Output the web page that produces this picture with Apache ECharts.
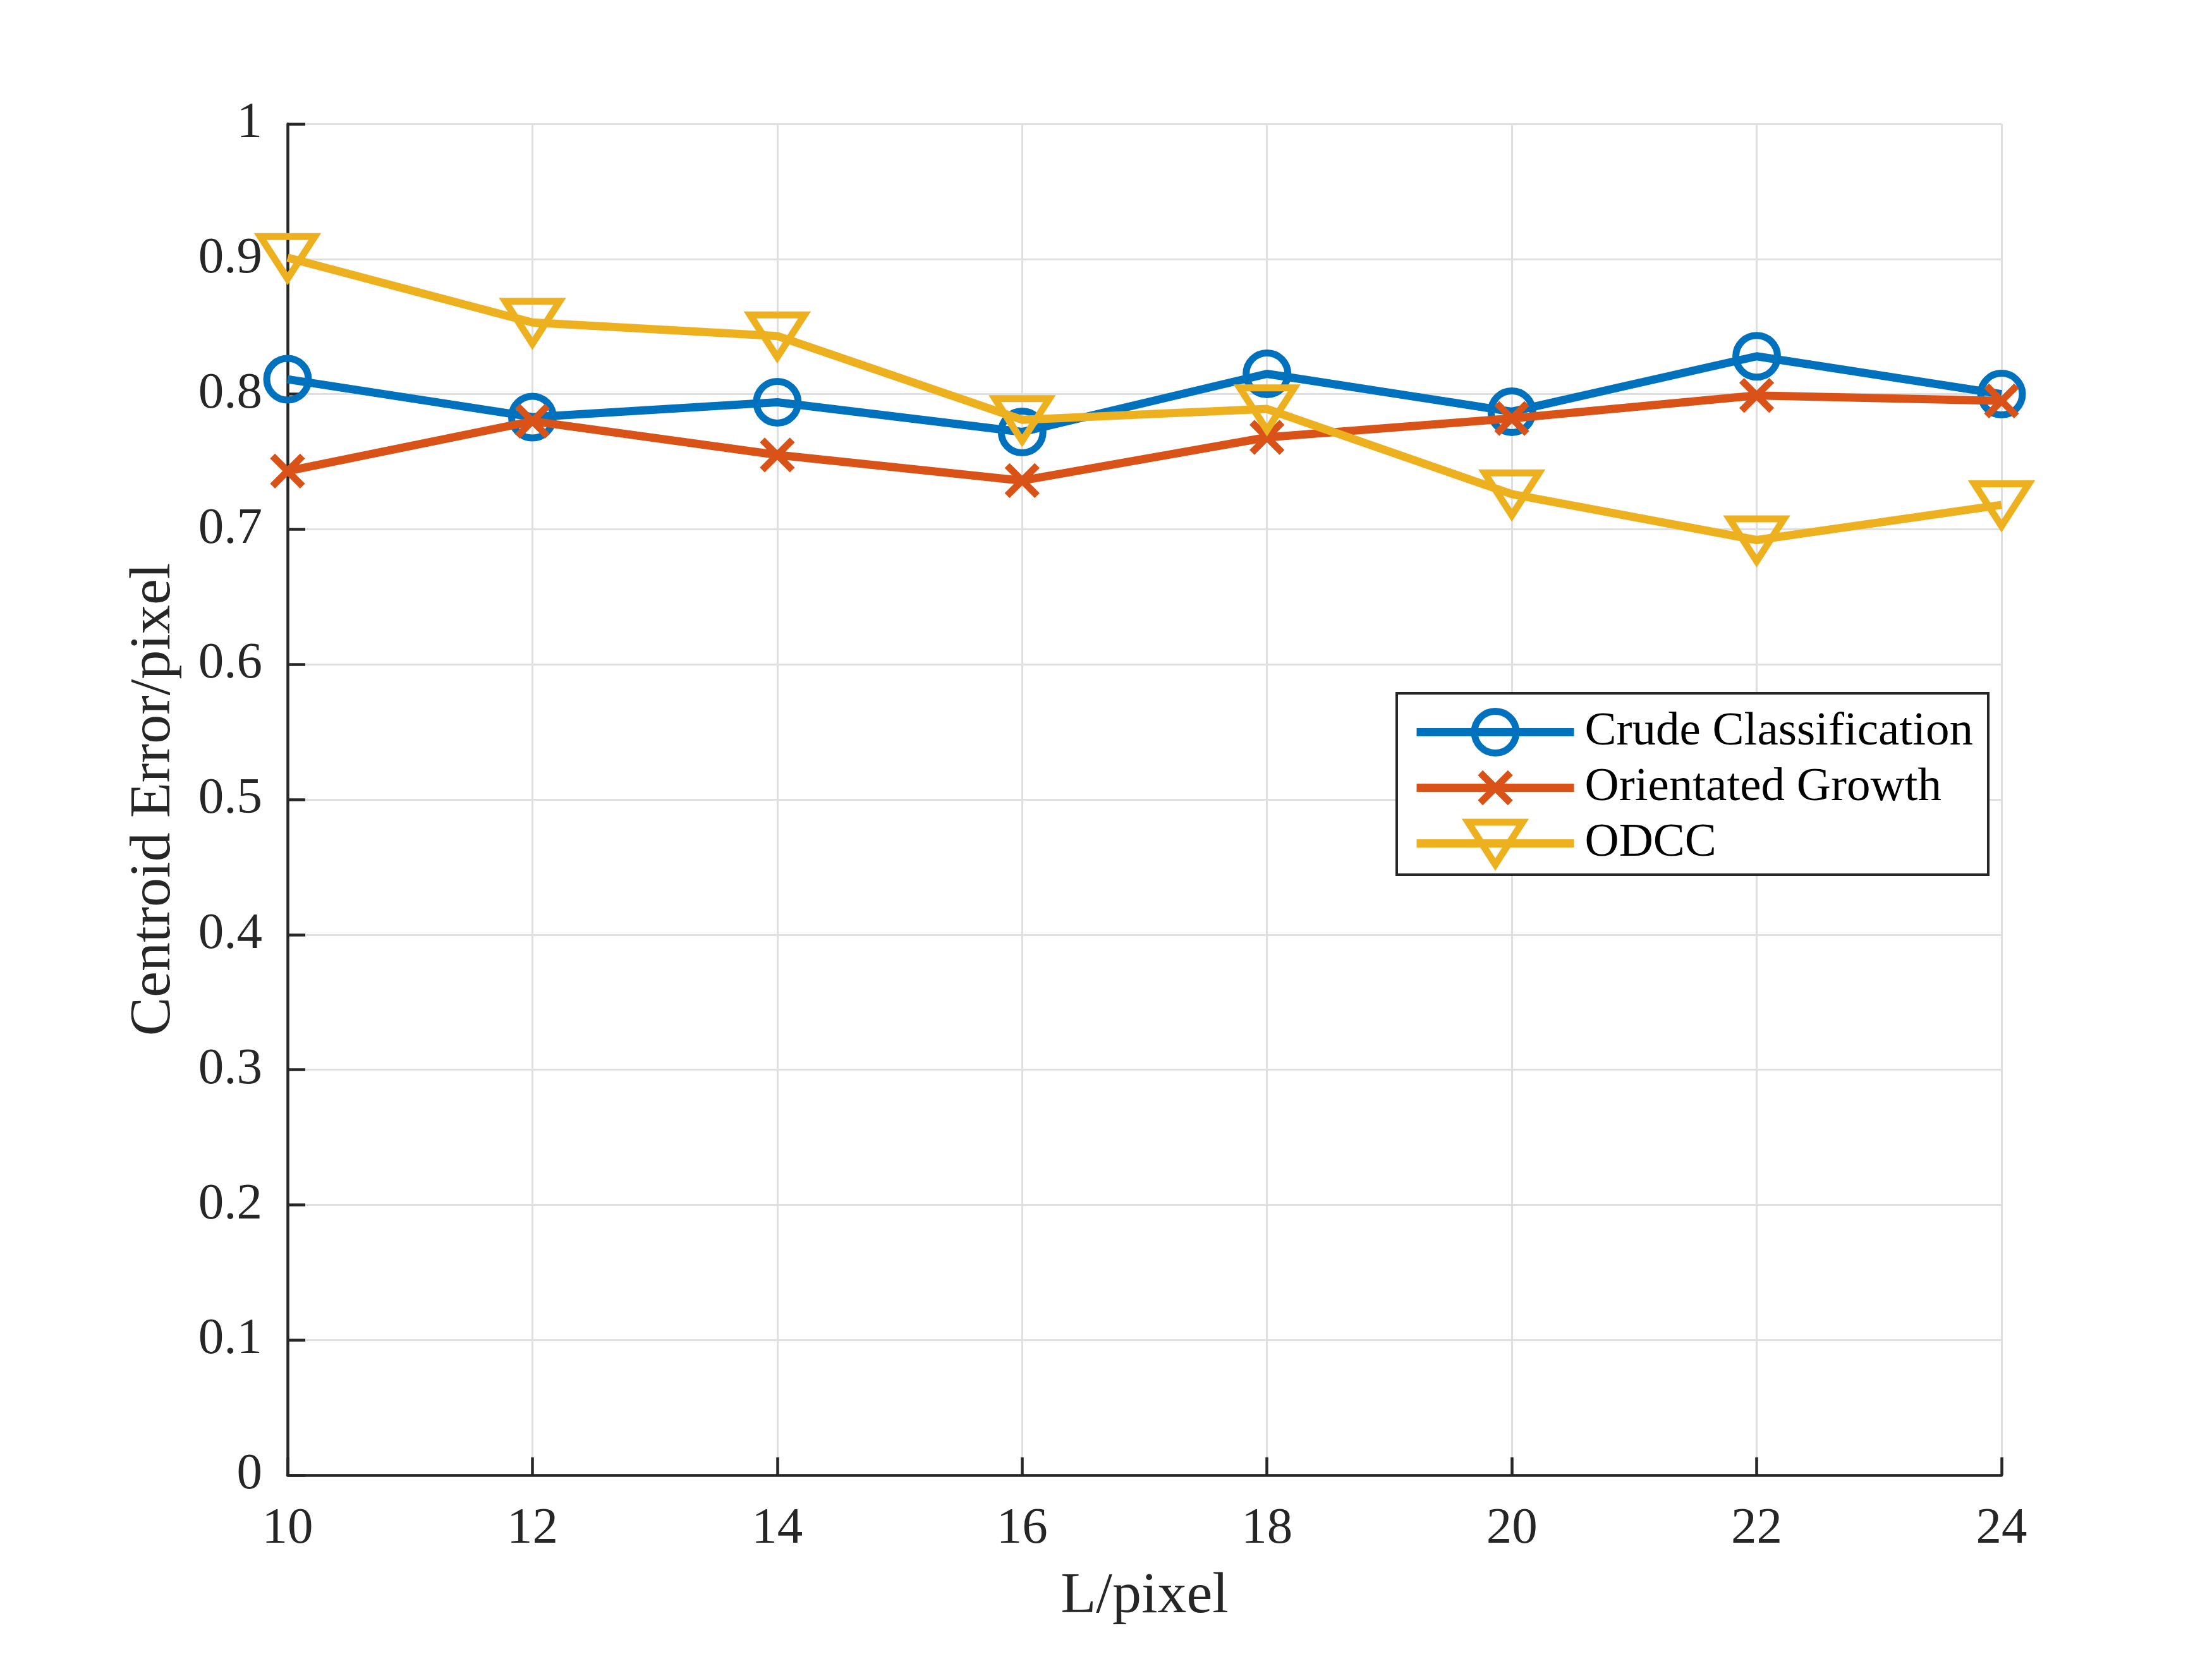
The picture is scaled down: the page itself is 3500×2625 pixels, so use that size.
<!DOCTYPE html>
<html>
<head>
<meta charset="utf-8">
<script src="https://cdn.jsdelivr.net/npm/echarts@6/dist/echarts.min.js"></script>
<style>
html,body{margin:0;padding:0;background:#fff;}
#chart{width:3500px;height:2625px;}
</style>
</head>
<body>
<div id="chart"></div>
<script>
// ---- data ----
const xValues = [10, 12, 14, 16, 18, 20, 22, 24];
const crudeClassification = [0.811, 0.783, 0.794, 0.772, 0.815, 0.787, 0.828, 0.800];
const orientatedGrowth   = [0.743, 0.780, 0.755, 0.736, 0.768, 0.782, 0.799, 0.795];
const odcc               = [0.901, 0.853, 0.843, 0.781, 0.789, 0.726, 0.692, 0.718];
const seriesNames = ['Crude Classification', 'Orientated Growth', 'ODCC'];
const xTicks = [10, 12, 14, 16, 18, 20, 22, 24];
const yTicks = [0, 0.1, 0.2, 0.3, 0.4, 0.5, 0.6, 0.7, 0.8, 0.9, 1];

// ---- styling ----
const FONT = "'Liberation Serif', 'Times New Roman', serif";
const AX = '#262626';
const colors = ['#0072BD', '#D95319', '#EDB120'];
// marker shapes (padded 100x100 boxes so markers and legend icons share size)
const symCircle = 'path://M0,0 M100,100 M12.5,50 A37.5,37.5 0 1 1 87.5,50 A37.5,37.5 0 1 1 12.5,50 Z';
const symX = 'path://M0,0 M100,100 M23,23 L77,77 M77,23 L23,77';
const symTri = 'path://M0,0 M100,100 M1,12 L99,12 L50,88 Z';
const symbols = [symCircle, symX, symTri];
const SYM = 88;

function pairs(ys) { return xValues.map((x, i) => [x, ys[i]]); }
const allData = [crudeClassification, orientatedGrowth, odcc];

const chart = echarts.init(document.getElementById('chart'), null, {renderer: 'canvas'});

const axisCommon = {
  axisLine: {show: true, onZero: false, lineStyle: {color: AX, width: 4.5}},
  axisTick: {show: true, inside: true, length: 28, lineStyle: {color: AX, width: 4.5}},
  splitLine: {show: true, lineStyle: {color: '#dfdfdf', width: 3}},
  axisLabel: {fontFamily: FONT, fontSize: 81, color: AX},
  nameLocation: 'middle',
  nameTextStyle: {fontFamily: FONT, fontSize: 92, color: AX}
};

const option = {
  backgroundColor: '#ffffff',
  animation: false,
  grid: {left: 455, right: 333, top: 196, bottom: 291, containLabel: false},
  xAxis: Object.assign({}, axisCommon, {
    type: 'value', min: xTicks[0], max: xTicks[xTicks.length - 1], interval: 2,
    name: 'L/pixel', nameGap: 147,
    axisLabel: Object.assign({}, axisCommon.axisLabel, {margin: 45})
  }),
  yAxis: Object.assign({}, axisCommon, {
    type: 'value', min: yTicks[0], max: yTicks[yTicks.length - 1], interval: 0.1,
    name: 'Centroid Error/pixel', nameGap: 165, nameRotate: 90,
    axisLabel: Object.assign({}, axisCommon.axisLabel, {margin: 40})
  }),
  legend: {
    orient: 'vertical',
    left: 2210, top: 1097,
    padding: [12, 24, 0, 25],
    itemWidth: 249, itemHeight: 110, itemGap: -11,
    backgroundColor: '#ffffff',
    borderColor: AX, borderWidth: 4,
    z: 10,
    textStyle: {fontFamily: FONT, fontSize: 75, color: '#000000', padding: [0, 0, 0, 12]},
    data: seriesNames.map((n, i) => ({
      name: n,
      itemStyle: {color: 'none', borderColor: colors[i], borderWidth: 11},
      lineStyle: {color: colors[i], width: 13}
    }))
  },
  series: seriesNames.map((n, i) => ({
    name: n,
    type: 'line',
    data: pairs(allData[i]),
    symbol: symbols[i],
    symbolSize: SYM,
    showAllSymbol: true,
    z: 2 + i,
    lineStyle: {color: colors[i], width: 13},
    itemStyle: {color: 'none', borderColor: colors[i], borderWidth: 11},
    emphasis: {disabled: true}
  }))
};

chart.setOption(option);
</script>
</body>
</html>
